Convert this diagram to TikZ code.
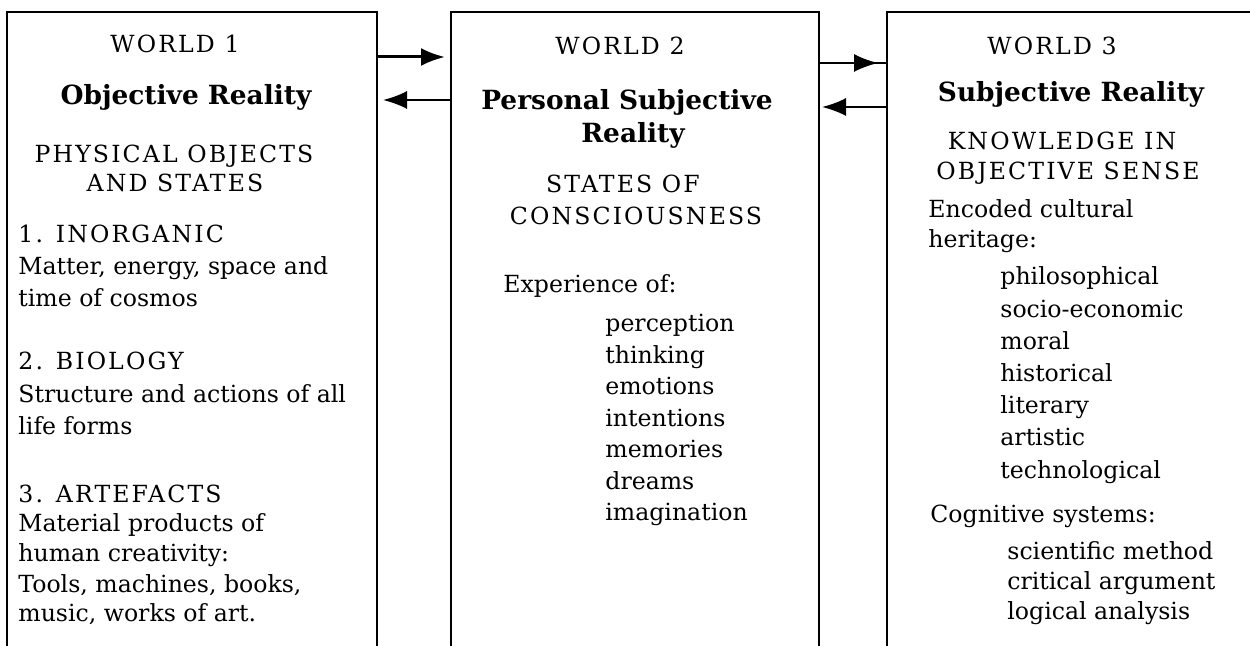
\documentclass[tikz,border=0pt]{standalone}
\usepackage{fontspec}
\setmainfont{DejaVu Serif}
\newfontfamily\spacedcaps[LetterSpace=9]{DejaVu Serif}
\usetikzlibrary{arrows.meta}

\begin{document}
\begin{tikzpicture}[x=0.5pt, y=-0.5pt, >={Latex[length=12pt,width=9pt]},
    frame/.style={line width=1pt},
    link/.style={line width=1pt},
    head/.style={font=\spacedcaps\fontsize{11.8}{14}\selectfont, anchor=base, inner sep=0pt},
    caps/.style={font=\spacedcaps\fontsize{11.8}{14}\selectfont, anchor=base west, inner sep=0pt},
    worldname/.style={font=\fontsize{13.2}{15}\selectfont\bfseries, anchor=base, inner sep=0pt},
    txt/.style={font=\fontsize{11.8}{14}\selectfont, anchor=base west, inner sep=0pt}]
    \useasboundingbox (0,0) rectangle (1250,646);

    % three worlds, open at the bottom
    \draw[frame] (7,670) |- (377,12) -- (377,670);
    \draw[frame] (451,670) |- (819,12) -- (819,670);
    \draw[frame] (887,670) |- (1270,12);

    % arrow ends on the box sides
    \coordinate (a12s) at (377,57);
    \coordinate (a12e) at (451,57);
    \coordinate (a21s) at (451,100);
    \coordinate (a21e) at (377,100);
    \coordinate (a23s) at (819,63);
    \coordinate (a23e) at (887,63);
    \coordinate (a32s) at (887,107);
    \coordinate (a32e) at (819,107);

    \draw[link, line width=1.5pt, ->, shorten >=3pt] (a12s) -- (a12e);
    \draw[link, ->, shorten >=3pt] (a21s) -- (a21e);
    \draw[link] (a23s) -- (a23e);
    \draw[link, ->, shorten >=4.5pt] (a23s) -- (a23e);
    \draw[link, ->, shorten >=1.5pt] (a32s) -- (a32e);

    % world 1
    \node[head] (w1) at (175,53) {WORLD 1};
    \node[worldname] (w1name) at (186,105) {Objective Reality};
    \node[head] (w1kind) at (174,163) {PHYSICAL OBJECTS};
    \node[head] (w1kindb) at (175,192) {AND STATES};
    \node[caps] (inorg) at (18,243) {1. INORGANIC};
    \node[txt] (inorga) at (18,275) {Matter, energy, space and};
    \node[txt] (inorgb) at (18,307) {time of cosmos};
    \node[caps] (bio) at (18,370) {2. BIOLOGY};
    \node[txt] (bioa) at (18,403) {Structure and actions of all};
    \node[txt] (biob) at (18,435) {life forms};
    \node[caps] (art) at (18,503) {3. ARTEFACTS};
    \node[txt] (arta) at (18,532) {Material products of};
    \node[txt] (artb) at (18,562) {human creativity:};
    \node[txt] (artc) at (18,593) {Tools, machines, books,};
    \node[txt] (artd) at (18,622) {music, works of art.};

    % world 2
    \node[head] (w2) at (620,55) {WORLD 2};
    \node[worldname] (w2name) at (627,110) {Personal Subjective};
    \node[worldname] (w2nameb) at (633,143) {Reality};
    \node[head] (w2kind) at (623,193) {STATES OF};
    \node[head] (w2kindb) at (636,225) {CONSCIOUSNESS};
    \node[txt] (exp) at (503,293) {Experience of:};
    \foreach \t [count=\i from 0] in {perception, thinking, emotions,
        intentions, memories, dreams, imagination}
        \node[txt] (exp\i) at (605,{332+31.5*\i}) {\t};

    % world 3
    \node[head] (w3) at (1052,55) {WORLD 3};
    \node[worldname] (w3name) at (1071,102) {Subjective Reality};
    \node[head] (w3kind) at (1062,150) {KNOWLEDGE IN};
    \node[head] (w3kindb) at (1068,180) {OBJECTIVE SENSE};
    \node[txt] (enc) at (928,218) {Encoded cultural};
    \node[txt] (encb) at (928,248) {heritage:};
    \foreach \t [count=\i from 0] in {philosophical, socio-economic, moral,
        historical, literary, artistic, technological}
        \node[txt] (cult\i) at (1000,{285+32.2*\i}) {\t};
    \node[txt] (cog) at (930,523) {Cognitive systems:};
    \foreach \t [count=\i from 0] in {scientific method, critical argument,
        logical analysis}
        \node[txt] (cog\i) at (1007,{560+30*\i}) {\t};
\end{tikzpicture}
\end{document}
